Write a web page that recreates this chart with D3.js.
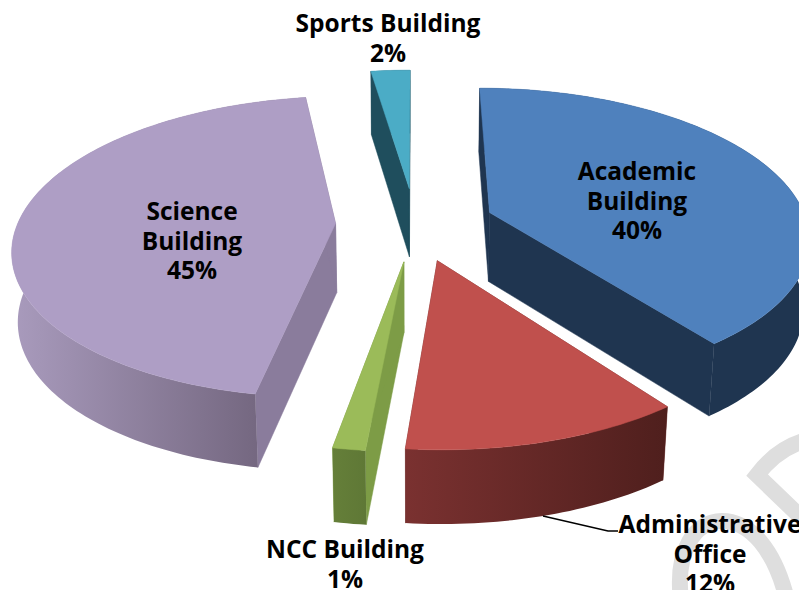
<!DOCTYPE html>
<html><head><meta charset="utf-8">
<script src="https://cdn.jsdelivr.net/npm/d3@7"></script>
<style>html,body{margin:0;padding:0;background:#fff;overflow:hidden}
text{font-family:"Open Sans",sans-serif;font-weight:700;fill:#000;text-anchor:middle}</style>
</head><body><svg id="c" width="799" height="590"></svg>
<script>
const categories=["Academic Building","Administrative Office","NCC Building","Science Building","Sports Building"];
const shares=[39.8,11.67,1.35,44.83,2.35];
const labelLines=[["Academic","Building"],["Administrative","Office"],["NCC Building"],["Science","Building"],["Sports Building"]];
const topColors=["#4f81bd","#c0504d","#9bbb59","#ae9ec5","#4bacc6"];
const radialColors=["#1f3550","#6b2c2a","#7d9c46","#8a7c9c","#1f4e5d"];
const outerFrom=["#1f3550","#7a3130","#657f39","#a99bbd","#1f4e5d"];
const outerTo=["#1f3550","#4f1f1d","#5f7836","#756881","#1f4e5d"];
const labelPos=[[637,180],[710,533],[345,558],[192,220],[388,32]];

const W=799,H=590,cx=415,cy=224,rx=318,ry=147,k=.155,D=72,mx=.015,my=.04,ex=.25;
const svg=d3.select("#c");
const line=d3.line();
function proj(X,Y,low){
  const w=1+k*Y;
  if(!low) return [cx+rx*X/w, cy-ry*Y/w];
  return [cx+rx*X/(w+mx), cy+(-ry*Y+D)/(w+my)];
}
const pie=d3.pie().sort(null).value(d=>d).startAngle(0).endAngle(2*Math.PI);
const arcs=pie(shares);
const defs=svg.append("defs");
// watermark under chart
const wm=svg.append("g").attr("fill","none").attr("stroke","#dedede").attr("stroke-width",16);
wm.append("path").attr("d","M812,439 Q780,445 757,475 L812,528");
wm.append("path").attr("d","M681,600 C675,550 695,521 722,521 C750,521 775,550 787,600");

[4,0,1,2,3].forEach(i=>{
  const a=arcs[i],mid=(a.startAngle+a.endAngle)/2;
  const ox=ex*Math.sin(mid),oy=ex*Math.cos(mid);
  const n=Math.max(4,Math.ceil((a.endAngle-a.startAngle)/0.02));
  const th=d3.range(n+1).map(j=>a.startAngle+(a.endAngle-a.startAngle)*j/n);
  const P=(t,low)=>proj(ox+Math.sin(t),oy+Math.cos(t),low);
  const A=l=>proj(ox,oy,l);
  const g=svg.append("g");
  const poly=(pts,c)=>g.append("path").attr("d",line(pts)+"Z").attr("fill",c).attr("stroke",c).attr("stroke-width",.5);
  poly([A(false),P(a.startAngle,false),P(a.startAngle,true),A(true)],radialColors[i]);
  poly([A(false),P(a.endAngle,false),P(a.endAngle,true),A(true)],radialColors[i]);
  // outer wall: horizontal gradient across the front of the rim
  const front=th.filter(t=>Math.cos(t)<0);
  const xs=d3.extent(front,t=>P(t,false)[0]);
  const id="wall"+i;
  const grad=defs.append("linearGradient").attr("id",id).attr("gradientUnits","userSpaceOnUse")
    .attr("x1",xs[0]).attr("x2",xs[1]).attr("y1",0).attr("y2",0);
  grad.append("stop").attr("offset",0).attr("stop-color",outerFrom[i]);
  grad.append("stop").attr("offset",1).attr("stop-color",outerTo[i]);
  g.append("path").attr("d",line([...th.map(t=>P(t,false)),...th.slice().reverse().map(t=>P(t,true))])+"Z").attr("fill",`url(#${id})`);
  poly([A(false),...th.map(t=>P(t,false))],topColors[i]);
});
// leader
svg.append("path").attr("d",line([[543,516],[608,531],[618,531]])).attr("fill","none").attr("stroke","#000").attr("stroke-width",1.4);
// labels
const fs=24.5,lh=29.5;
categories.forEach((c,i)=>{
  const t=svg.append("text").attr("font-size",fs);
  const lines=[...labelLines[i],Math.round(shares[i])+"%"];
  lines.forEach((s,j)=>t.append("tspan").attr("x",labelPos[i][0]).attr("y",labelPos[i][1]+j*lh).text(s));
});
</script></body></html>
